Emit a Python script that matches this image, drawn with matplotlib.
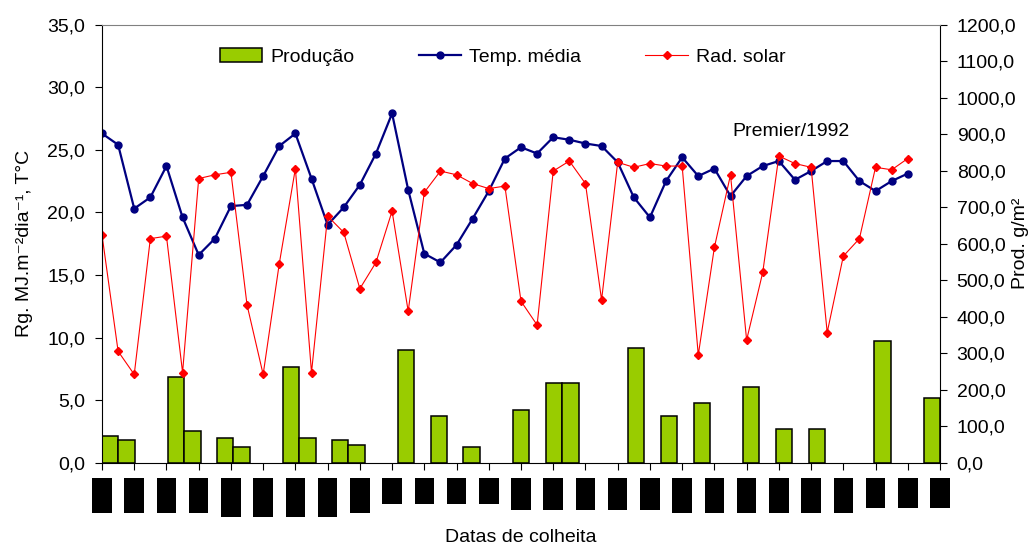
import numpy as np
import matplotlib
matplotlib.use('Agg')
import matplotlib.pyplot as plt
from matplotlib.ticker import FuncFormatter
from matplotlib.transforms import blended_transform_factory, offset_copy

plt.rcParams['font.family'] = ['Liberation Sans', 'DejaVu Sans']

# values, one per harvest date
temp_media = [26.3, 25.4, 20.3, 21.2, 23.7, 19.6, 16.6, 17.9, 20.5, 20.6,
              22.9, 25.3, 26.3, 22.7, 19.0, 20.4, 22.2, 24.7, 27.9, 21.8,
              16.7, 16.0, 17.4, 19.5, 21.7, 24.3, 25.2, 24.7, 26.0, 25.8,
              25.5, 25.3, 24.0, 21.2, 19.6, 22.5, 24.4, 22.9, 23.5, 21.3,
              22.9, 23.7, 24.1, 22.6, 23.3, 24.1, 24.1, 22.5, 21.7, 22.5, 23.1]
rad_solar = [18.2, 8.9, 7.05, 17.9, 18.1, 7.2, 22.7, 23.0, 23.2, 12.6,
             7.05, 15.9, 23.5, 7.2, 19.7, 18.4, 13.9, 16.0, 20.1, 12.1,
             21.6, 23.3, 23.0, 22.3, 21.9, 22.1, 12.9, 11.0, 23.3, 24.1,
             22.3, 13.0, 24.0, 23.6, 23.9, 23.7, 23.7, 8.6, 17.2, 23.0,
             9.8, 15.2, 24.5, 23.9, 23.6, 10.4, 16.5, 17.9, 23.6, 23.4, 24.3]
producao = [73, 63, 0, 0, 234, 88, 0, 69, 44, 0,
            0, 263, 69, 0, 63, 49, 0, 0, 308, 0,
            129, 0, 44, 0, 0, 144, 0, 218, 218, 0,
            0, 0, 313, 0, 129, 0, 163, 0, 0, 208,
            0, 92, 0, 92, 0, 0, 0, 334, 0, 0, 178]

# the date labels are blacked out in the source
date_labels = ['\u2588\u2588\u2588'] * 27
# length (px) of each blacked-out label
block_len = [35] * 4 + [39] * 4 + [35] + [26] * 4 + [32] * 5 + [35] * 6 + [30] * 3
block_w = 19.5

fig = plt.figure(figsize=(10.34, 5.45), dpi=100)
rect = [102 / 1034, 1 - 462.7 / 545, 838 / 1034, 438.1 / 545]

ax_bar = fig.add_axes(rect)
ax = fig.add_axes(rect)
ax.set_zorder(ax_bar.get_zorder() + 1)
ax.patch.set_visible(False)

fmt = FuncFormatter(lambda v, p: f'{v:.1f}'.replace('.', ','))

# bars: 51 categories across the full width (secondary axis)
prod = np.array(producao, dtype=float)
idx = np.arange(len(prod))
has = prod > 0
ax_bar.bar(idx[has], prod[has], width=1.0, align='edge', color='#99CC00',
           edgecolor='black', linewidth=1.1, label='Produção')
ax_bar.set_xlim(0, len(prod))
ax_bar.set_ylim(0, 1200)
ax_bar.set_yticks(np.arange(0, 1201, 100))
ax_bar.yaxis.set_major_formatter(fmt)
ax_bar.yaxis.tick_right()
ax_bar.yaxis.set_label_position('right')
ax_bar.set_xticks([])
ax_bar.tick_params(axis='y', labelsize=14, length=5, pad=7, direction='out')
ax_bar.set_ylabel('Prod. g/m²', fontsize=14)
ax_bar.yaxis.set_label_coords(1.086, 0.5)
for s in ax_bar.spines.values():
    s.set_visible(False)

# lines (primary axis)
x = np.arange(len(temp_media))
ax.plot(x, temp_media, color='#000080', lw=1.6, marker='o', ms=5, label='Temp. média')
ax.plot(x, rad_solar, color='#FF0000', lw=0.8, marker='D', ms=4.3, label='Rad. solar')
ax.set_xlim(0, 52)
ax.set_ylim(0, 35)
ax.set_yticks(np.arange(0, 36, 5))
ax.yaxis.set_major_formatter(fmt)
ax.tick_params(axis='y', labelsize=14, length=5, pad=7, direction='out')
tick_pos = np.arange(0, 53, 2)
ax.set_xticks(tick_pos)
ax.set_xticklabels([])
ax.tick_params(axis='x', length=5, direction='out')
ax.set_ylabel('Rg. MJ.m\u207b\u00b2dia\u207b\u00b9, T°C', fontsize=14)
ax.yaxis.set_label_coords(-0.082, 0.5)
ax.set_xlabel('Datas de colheita', fontsize=14)
ax.xaxis.set_label_coords(0.5, -0.152)
ax.spines['top'].set_color('#808080')

# blacked-out date labels, drawn as text with a filled box
base = blended_transform_factory(ax.transData, ax.transAxes)
renderer = fig.canvas.get_renderer()
fs = 8
em = fs * fig.dpi / 72
for xp, lab, L in zip(tick_pos, date_labels, block_len):
    tr = offset_copy(base, fig=fig, x=0, y=-(15 + L / 2), units='dots')
    t = ax.text(xp, 0, lab, transform=tr, rotation=90, ha='center', va='center',
                fontsize=fs, color='black', family='DejaVu Sans', clip_on=False)
    bb = t.get_window_extent(renderer)
    pad = (L - bb.height) / (2 * em)
    aspect = (block_w - bb.width) / (2 * pad * em)
    t.set_bbox(dict(boxstyle=f'square,pad={pad}', fc='black', ec='none',
                    mutation_aspect=aspect))

ax.text(0.822, 0.757, 'Premier/1992', transform=ax.transAxes, fontsize=14,
        ha='center', va='center')

handles = ax_bar.get_legend_handles_labels()[0] + ax.get_legend_handles_labels()[0]
labels = ['Produção', 'Temp. média', 'Rad. solar']
ax.legend(handles, labels, loc='center', bbox_to_anchor=(0.478, 0.926), ncol=3,
          frameon=False, fontsize=14, handlelength=2.2, handletextpad=0.4,
          columnspacing=3.3, borderpad=0, handleheight=0.7)

fig.savefig('out.png', dpi=100)
